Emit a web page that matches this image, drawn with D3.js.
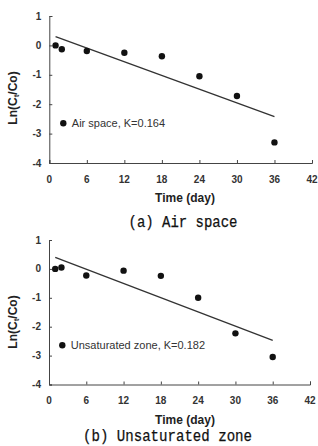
<!DOCTYPE html>
<html>
<head>
<meta charset="utf-8">
<script src="https://cdn.jsdelivr.net/npm/d3@7"></script>
<style>
  body { margin: 0; background: #fff; }
  svg { display: block; }
</style>
</head>
<body>
<svg width="318" height="446"></svg>
<script>
// data
const days = [1, 2, 6, 12, 18, 24, 30, 36];
const airValues = [0, -0.13, -0.19, -0.25, -0.37, -1.05, -1.72, -3.3];
const unsatValues = [0, 0.05, -0.23, -0.06, -0.24, -1.0, -2.23, -3.05];
const airFit = [{ t: 1, v: 0.3 }, { t: 36, v: -2.42 }];
const unsatFit = [{ t: 1, v: 0.4 }, { t: 36, v: -2.47 }];
const xTicks = [0, 6, 12, 18, 24, 30, 36, 42];
const yTicks = [1, 0, -1, -2, -3, -4];

const svg = d3.select('svg');

function drawPanel(opt) {
  const x = d3.scaleLinear().domain([0, 42]).range([opt.left, opt.right]);
  const y = d3.scaleLinear().domain([-4, 1]).range([opt.bottom, opt.top]);
  const g = svg.append('g');

  // axes, ticks pointing inward
  const yAxis = g.append('g')
    .attr('transform', `translate(${opt.left},0)`)
    .call(d3.axisRight(y).tickValues(yTicks).tickSize(3).tickFormat(''));
  const xAxis = g.append('g')
    .attr('transform', `translate(0,${opt.bottom})`)
    .call(d3.axisTop(x).tickValues(xTicks).tickSize(3).tickFormat(''));
  [xAxis, yAxis].forEach((a) => {
    a.select('.domain').attr('stroke', '#444');
    a.selectAll('line').attr('stroke', '#444');
  });

  g.selectAll('.ylab').data(yTicks).join('text')
    .attr('x', opt.left - 8)
    .attr('y', (d) => y(d) + 3.5)
    .attr('text-anchor', 'end')
    .attr('font-family', 'Liberation Sans, Arial, sans-serif')
    .attr('font-weight', 'bold')
    .attr('font-size', 10)
    .attr('fill', '#333')
    .text((d) => d);

  g.selectAll('.xlab').data(xTicks).join('text')
    .attr('x', (d) => x(d))
    .attr('y', opt.bottom + 19.5)
    .attr('text-anchor', 'middle')
    .attr('font-family', 'Liberation Sans, Arial, sans-serif')
    .attr('font-weight', 'bold')
    .attr('font-size', 10)
    .attr('fill', '#333')
    .text((d) => d);

  g.append('text')
    .attr('x', 185)
    .attr('y', opt.bottom + 39)
    .attr('text-anchor', 'middle')
    .attr('font-family', 'Liberation Sans, Arial, sans-serif')
    .attr('font-weight', 'bold')
    .attr('font-size', 12)
    .attr('fill', '#222')
    .text('Time (day)');

  const yl = g.append('text')
    .attr('transform', `translate(17,${opt.top + 82}) rotate(-90)`)
    .attr('text-anchor', 'middle')
    .attr('font-family', 'Liberation Sans, Arial, sans-serif')
    .attr('font-weight', 'bold')
    .attr('font-size', 12)
    .attr('fill', '#222');
  yl.append('tspan').text('Ln(C');
  yl.append('tspan').attr('font-size', 8).attr('dy', 2).text('t');
  yl.append('tspan').attr('dy', -2).text('/Co)');

  // regression line
  const line = d3.line().x((d) => x(d.t)).y((d) => y(d.v));
  g.append('path')
    .attr('d', line(opt.fit))
    .attr('stroke', '#333')
    .attr('stroke-width', 1.3)
    .attr('fill', 'none');

  g.selectAll('circle.pt').data(days).join('circle')
    .attr('cx', (d) => x(d))
    .attr('cy', (d, i) => y(opt.values[i]))
    .attr('r', 3.2)
    .attr('fill', '#111');

  // legend
  g.append('circle')
    .attr('cx', opt.legX)
    .attr('cy', opt.legY)
    .attr('r', 3.2)
    .attr('fill', '#111');
  g.append('text')
    .attr('x', opt.legX + 8.5)
    .attr('y', opt.legY + 4)
    .attr('font-family', 'Liberation Sans, Arial, sans-serif')
    .attr('font-size', 11)
    .attr('fill', '#333')
    .text(opt.legend);

  // caption under the panel, narrow serif mono look
  g.append('text')
    .attr('x', opt.titleX)
    .attr('y', opt.titleY)
    .attr('text-anchor', 'middle')
    .attr('font-family', 'Liberation Mono, monospace')
    .attr('font-size', 16)
    .attr('fill', '#111')
    .attr('stroke', '#111')
    .attr('stroke-width', 0.25)
    .attr('textLength', opt.titleW)
    .attr('lengthAdjust', 'spacingAndGlyphs')
    .text(opt.title);
}

drawPanel({
  left: 49.3, right: 312, top: 16, bottom: 163,
  values: airValues, fit: airFit,
  legX: 63.3, legY: 123.3, legend: 'Air space, K=0.164',
  title: '(a) Air space', titleX: 183, titleY: 227, titleW: 109
});

drawPanel({
  left: 49, right: 310, top: 240, bottom: 384.5,
  values: unsatValues, fit: unsatFit,
  legX: 62.3, legY: 345.3, legend: 'Unsaturated zone, K=0.182',
  title: '(b) Unsaturated zone', titleX: 167.5, titleY: 441, titleW: 169
});
</script>
</body>
</html>
